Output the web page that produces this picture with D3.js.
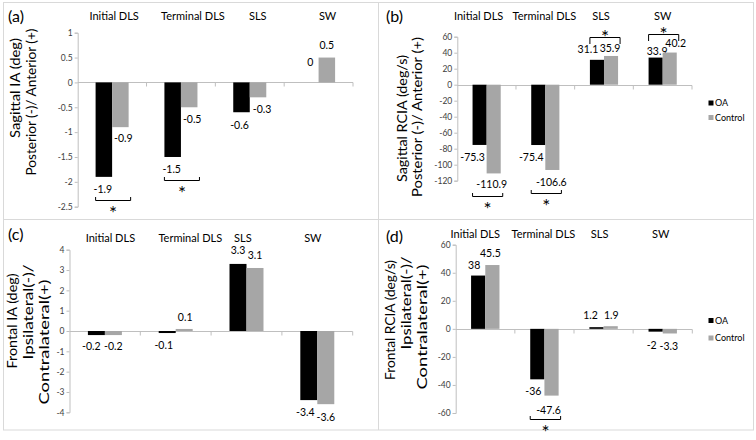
<!DOCTYPE html>
<html><head><meta charset="utf-8">
<script src="https://cdn.jsdelivr.net/npm/d3@7"></script>
<style>body{margin:0;background:#fff}svg{display:block;font-family:Lato,'Open Sans',sans-serif}</style>
</head><body>
<svg id="chart" width="756" height="440"></svg>
<script>
// ---------- data ----------
const categories = ["Initial DLS", "Terminal DLS", "SLS", "SW"];
const seriesNames = ["OA", "Control"];

const aOA = [-1.9, -1.5, -0.6, 0];
const aControl = [-0.9, -0.5, -0.3, 0.5];
const aTicks = [1, 0.5, 0, -0.5, -1, -1.5, -2, -2.5];
const aSig = ["Initial DLS", "Terminal DLS"];
const aTitle = ["Sagittal IA (deg)", "Posterior (-)/ Anterior (+)"];

const bOA = [-75.3, -75.4, 31.1, 33.9];
const bControl = [-110.9, -106.6, 35.9, 40.2];
const bTicks = [60, 40, 20, 0, -20, -40, -60, -80, -100, -120];
const bSig = ["Initial DLS", "Terminal DLS", "SLS", "SW"];
const bTitle = ["Sagittal RCIA (deg/s)", "Posterior (-)/ Anterior (+)"];

const cOA = [-0.2, -0.1, 3.3, -3.4];
const cControl = [-0.2, 0.1, 3.1, -3.6];
const cTicks = [4, 3, 2, 1, 0, -1, -2, -3, -4];
const cSig = [];
const cTitle = ["Frontal IA (deg)", "Ipsilateral(-)/", "Contralateral(+)"];

const dOA = [38, -36, 1.2, -2];
const dControl = [45.5, -47.6, 1.9, -3.3];
const dTicks = [60, 40, 20, 0, -20, -40, -60];
const dSig = ["Terminal DLS"];
const dTitle = ["Frontal RCIA (deg/s)", "Ipsilateral(-)/", "Contralateral(+)"];

// ---------- layout ----------
const panels = [
  {tag:"(a)", oa:aOA, ctrl:aControl, ticks:aTicks, sig:aSig, title:aTitle,
   x0:77.7, x1:353, yTop:32.7, yBot:206.7, lab:[8,16.5], catY:16, catDx:[2,12,8,9],
   tl:[[15.7,88,100],[31.7,102,147]], legend:null,
   nOA:[[-1,0],[-1,0],[-2,1],[0,-8]], nC:[[3,-1],[3,0],[4,0],[0,0]]},
  {tag:"(b)", oa:bOA, ctrl:bControl, ticks:bTicks, sig:bSig, title:bTitle,
   x0:457.3, x1:692, yTop:36.7, yBot:180.7, lab:[386,16.5], catY:16, catDx:[-8,-1,-3,0],
   tl:[[403,118.5,127],[418,117,160]], legend:[708.5,103,117.5],
   nOA:[[-7,0],[-7,0],[-9,2],[1.5,6]], nC:[[-2,-1],[-1,0],[-1,4],[6,3]]},
  {tag:"(c)", oa:cOA, ctrl:cControl, ticks:cTicks, sig:cSig, title:cTitle,
   x0:69.5, x1:352.7, yTop:249.7, yBot:412.3, lab:[8,234.5], catY:238, catDx:[5.5,14.6,-3.6,-4.5],
   tl:[[12.5,321,95],[29,312,95],[45,342,125]], legend:null,
   nOA:[[-5,-1],[-3.5,0],[0,-1.5],[-3.5,0]], nC:[[0,-1],[1,0],[0,-1],[0,1.5]]},
  {tag:"(d)", oa:dOA, ctrl:dControl, ticks:dTicks, sig:dSig, title:dTitle,
   x0:455.7, x1:692.3, yTop:244.7, yBot:413, lab:[386,236.5], catY:234, catDx:[-10,-1,-4,-2],
   tl:[[390.5,320,120],[407,303,93],[423,327,125]], legend:[708.5,320.5,338],
   nOA:[[-4,2],[-4,0],[-6,0],[-4,1.5]], nC:[[-2,0.7],[-3,2.4],[0.6,1],[-1,0.7]]}
];

const COLORS = ["#000000", "#a6a6a6"];
const AXIS = "#bfbfbf";
const STAR = 19;

const svg = d3.select("#chart");
svg.append("rect").attr("width", 756).attr("height", 440).attr("fill", "#fff");

// figure frame
const fr = svg.append("g").attr("stroke", "#d9d9d9").attr("fill", "none");
fr.append("rect").attr("x", 3.5).attr("y", 2.5).attr("width", 750).attr("height", 427.5);
fr.append("line").attr("x1", 378.5).attr("x2", 378.5).attr("y1", 2.5).attr("y2", 430);
fr.append("line").attr("x1", 3.5).attr("x2", 753.5).attr("y1", 219.5).attr("y2", 219.5);

panels.forEach(p => {
  const g = svg.append("g");
  const x = d3.scaleBand().domain(categories).range([p.x0, p.x1]);
  const y = d3.scaleLinear().domain([d3.min(p.ticks), d3.max(p.ticks)]).range([p.yBot, p.yTop]);
  const bw = x.bandwidth() * 0.24, off = x.bandwidth() * 0.26;
  const series = [p.oa, p.ctrl];
  const nudges = [p.nOA, p.nC];

  // y axis
  const ya = g.append("g").attr("transform", `translate(${p.x0},0)`)
    .call(d3.axisLeft(y).tickValues(p.ticks).tickSize(3).tickPadding(2).tickFormat(d => String(d)));
  ya.selectAll("path,line").attr("stroke", AXIS);
  ya.selectAll("text").attr("font-size", 8.5).attr("fill", "#404040").attr("font-family", "Lato, sans-serif");

  // x axis line at zero + category boundary ticks
  const bounds = categories.map(c => x(c)).concat([x.range()[1]]);
  const y0 = Math.round(y(0)) + 0.5;
  g.append("line").attr("x1", p.x0).attr("x2", p.x1).attr("y1", y0).attr("y2", y0).attr("stroke", AXIS);
  g.selectAll(null).data(bounds.slice(1)).join("line")
    .attr("x1", d => d).attr("x2", d => d)
    .attr("y1", y0).attr("y2", y0 + 4).attr("stroke", AXIS);

  // bars + value labels
  series.forEach((vals, k) => {
    g.selectAll(null).data(vals).join("rect")
      .attr("x", (d, i) => x(categories[i]) + off + k * bw)
      .attr("y", d => y(Math.max(0, d)))
      .attr("width", bw)
      .attr("height", d => Math.abs(y(d) - y(0)))
      .attr("fill", COLORS[k]);
    g.selectAll(null).data(vals).join("text")
      .attr("x", (d, i) => x(categories[i]) + off + k * bw + bw / 2 + nudges[k][i][0])
      .attr("y", (d, i) => (d >= 0 ? y(d) - 12 : y(d) + 12) + nudges[k][i][1])
      .attr("dy", "0.35em").attr("text-anchor", "middle")
      .attr("font-size", 10.5).attr("fill", "#000")
      .text(d => String(d));
  });

  // category labels (top)
  g.selectAll(null).data(categories).join("text")
    .attr("x", (c, i) => x(c) + x.bandwidth() / 2 + p.catDx[i])
    .attr("y", p.catY).attr("dy", "0.35em").attr("text-anchor", "middle")
    .attr("font-size", 11).attr("fill", "#000").text(c => c);

  // panel tag
  g.append("text").attr("x", p.lab[0]).attr("y", p.lab[1]).attr("dy", "0.35em")
    .attr("font-size", 16).attr("fill", "#000").text(p.tag);

  // y title lines
  p.title.forEach((t, i) => {
    const [cx, cy, len] = p.tl[i];
    g.append("text").attr("transform", `translate(${cx + 4},${cy}) rotate(-90)`)
      .attr("text-anchor", "middle").attr("font-size", 14).attr("fill", "#000")
      .attr("textLength", len).attr("lengthAdjust", "spacingAndGlyphs").text(t);
  });

  // significance brackets
  p.sig.forEach(c => {
    const i = categories.indexOf(c);
    const vals = [p.oa[i], p.ctrl[i]];
    const left = x(c) + off, right = x(c) + off + 2 * bw + 2;
    const above = d3.min(vals) >= 0;
    const bg = g.append("g");
    if (above) {
      const yl = Math.round(y(d3.max(vals)) - 19) + 0.5;
      bg.append("path").attr("d", `M${left},${yl + 6.5}V${yl}H${right}V${yl + 6.5}`)
        .attr("fill", "none").attr("stroke", "#000").attr("stroke-width", 1);
      bg.append("text").attr("x", (left + right) / 2).attr("y", yl - 5 + STAR * 0.58)
        .attr("text-anchor", "middle").attr("font-size", STAR).text("*");
    } else {
      const yl = Math.round(y(d3.min(vals)) + 23) + 0.5;
      bg.append("path").attr("d", `M${left},${yl - 3.5}V${yl}H${right}V${yl - 3.5}`)
        .attr("fill", "none").attr("stroke", "#000").attr("stroke-width", 1);
      bg.append("text").attr("x", (left + right) / 2).attr("y", yl + 8.5 + STAR * 0.58)
        .attr("text-anchor", "middle").attr("font-size", STAR).text("*");
    }
  });

  // legend
  if (p.legend) {
    const [lx, ly1, ly2] = p.legend;
    [ly1, ly2].forEach((ly, k) => {
      g.append("rect").attr("x", lx).attr("y", ly - 2.5).attr("width", 5).attr("height", 5).attr("fill", COLORS[k]);
      g.append("text").attr("x", lx + 6.5).attr("y", ly).attr("dy", "0.35em")
        .attr("font-size", 9).attr("fill", "#000").text(seriesNames[k]);
    });
  }
});
</script>
</body></html>
